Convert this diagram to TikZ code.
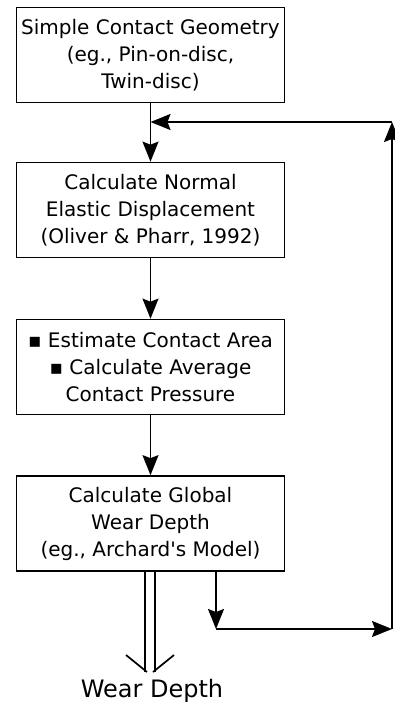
\documentclass[tikz,border=0pt]{standalone}
\usepackage{fontspec}
\setmainfont{DejaVu Sans}[Ligatures=TeXOff]
\usetikzlibrary{arrows.meta}

\tikzset{every picture/.style={line width=1.7pt}}
\tikzset{
  stepbox/.style={draw, minimum width=268pt, minimum height=95pt, align=center,
    inner sep=0.75pt, font=\fontsize{20}{27}\selectfont},
  outlabel/.style={inner sep=0.75pt, font=\fontsize{24}{28}\selectfont},
  flow/.style={-{Stealth[length=20pt,width=16pt,inset=3pt]}},
}

\begin{document}
\begin{tikzpicture}[x=1pt,y=1pt,yscale=-1,xscale=1]
\useasboundingbox (0,0) rectangle (395,706);

% Boxes
\node [stepbox] (geom) at (150.5,55) {Simple Contact Geometry\\(eg., Pin-on-disc,\\Twin-disc)};
\node [stepbox] (disp) at (150.5,210) {Calculate Normal\\Elastic Displacement\\(Oliver \& Pharr, 1992)};
\node [stepbox] (press) at (150.5,367) {▪ Estimate Contact Area\\▪ Calculate Average\\Contact Pressure};
\node [stepbox] (wear) at (150.5,523.5) {Calculate Global\\Wear Depth\\(eg., Archard's Model)};
% Text Node
\node [outlabel] (out) at (152,691) {Wear Depth};

% Loop corners
\coordinate (join) at (150.5,122);
\coordinate (rtop) at (392,122);
\coordinate (drop) at (216,629);
\coordinate (rbot) at (392,629);
\coordinate (wtip) at (150,672);

% Main flow
\draw [flow] (geom) -- (disp);
\draw [flow] (disp) -- (press);
\draw [flow] (press) -- (wear);

% Feedback loop
\draw [flow] (wear.south -| drop) -- (drop);
\draw [flow] (drop) -- (rbot);
\draw [flow] (rbot) -- (rtop);
\draw [flow] (rtop) -- (join);

% Output arrow
\draw ([xshift=-5pt]wear.south -| wtip) -- ([xshift=-5pt]wtip);
\draw ([xshift=5pt]wear.south -| wtip) -- ([xshift=5pt]wtip);
\draw ([xshift=-3pt]wtip) -- ++(-21,-17);
\draw ([xshift=3pt]wtip) -- ++(21,-17);

\end{tikzpicture}
\end{document}
